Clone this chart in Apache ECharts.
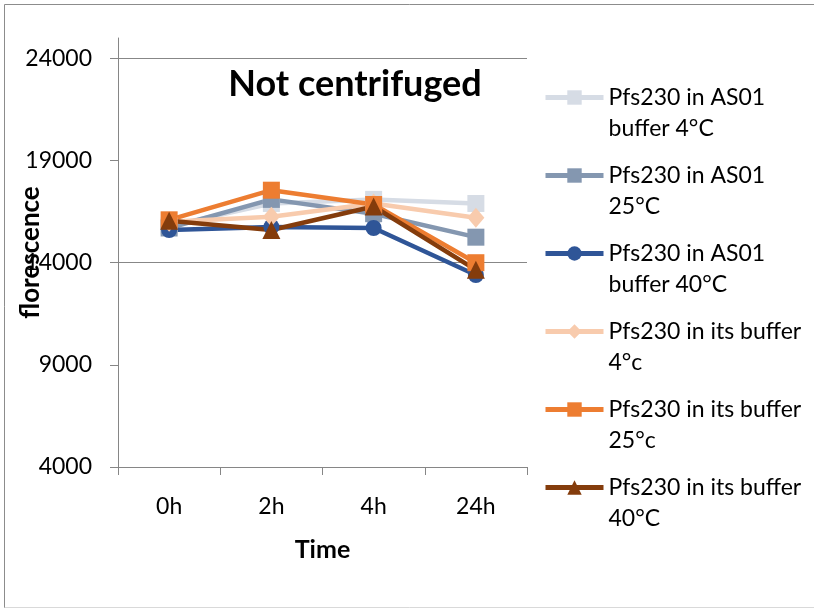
<!DOCTYPE html>
<html>
<head>
<meta charset="utf-8">
<script src="https://cdn.jsdelivr.net/npm/echarts@6/dist/echarts.min.js"></script>
<style>
html,body{margin:0;padding:0;background:#fff;}
#c{width:814px;height:610px;}
</style>
</head>
<body>
<div id="c"></div>
<script>
const categories = ['0h', '2h', '4h', '24h'];
const seriesNames = [
  'Pfs230 in AS01 buffer 4°C',
  'Pfs230 in AS01 25°C',
  'Pfs230 in AS01 buffer 40°C',
  'Pfs230 in its buffer 4°c',
  'Pfs230 in its buffer 25°c',
  'Pfs230 in its buffer 40°C'
];
const legendLine1 = ['Pfs230 in AS01', 'Pfs230 in AS01', 'Pfs230 in AS01', 'Pfs230 in its buffer', 'Pfs230 in its buffer', 'Pfs230 in its buffer'];
const legendLine2 = ['buffer 4°C', '25°C', 'buffer 40°C', '4°c', '25°c', '40°C'];
const as01Buffer4 = [15800, 16900, 17100, 16900];
const as01At25 = [15700, 17100, 16400, 15250];
const as01Buffer40 = [15600, 15750, 15700, 13400];
const itsBuffer4 = [16000, 16250, 16900, 16200];
const itsBuffer25 = [16100, 17550, 16850, 14000];
const itsBuffer40 = [16050, 15600, 16750, 13650];
const yTickValues = [4000, 9000, 14000, 19000, 24000];
const gridLineValues = [14000, 24000];

const seriesData = [as01Buffer4, as01At25, as01Buffer40, itsBuffer4, itsBuffer25, itsBuffer40];
const colors = ['#D6DCE5', '#8497B0', '#2F5597', '#F8CBAD', '#ED7D31', '#843C0C'];
const symbols = ['rect', 'rect', 'circle', 'diamond', 'rect', 'triangle'];
const symbolSizes = [17, 17, 16, [17, 20], 17, 18];
const FONT = 'Lato';

const chart = echarts.init(document.getElementById('c'), null, {renderer: 'canvas'});
const series = seriesData.map((d, i) => {
  const s = {
    name: seriesNames[i],
    type: 'line',
    data: d,
    symbol: symbols[i],
    symbolSize: symbolSizes[i],
    showAllSymbol: true,
    lineStyle: {color: colors[i], width: 4.5},
    itemStyle: {color: colors[i], borderWidth: 0},
    emphasis: {disabled: true},
    animation: false
  };
  if (i === 0) {
    s.markLine = {
      silent: true,
      symbol: 'none',
      z: 1,
      label: {show: false},
      lineStyle: {color: '#878787', width: 1, type: 'solid'},
      data: gridLineValues.map(v => ({yAxis: v}))
    };
  }
  return s;
});

chart.setOption({
  animation: false,
  backgroundColor: '#fff',
  textStyle: {fontFamily: FONT},
  title: {
    text: 'Not centrifuged',
    left: 350, top: 61, textAlign: 'center',
    textStyle: {fontFamily: FONT, fontWeight: 'bold', fontSize: 36, color: '#000'}
  },
  grid: {left: 118, top: 38, width: 409, height: 429, containLabel: false, outerBoundsMode: 'none'},
  legend: {
    orient: 'vertical',
    left: 543, top: 86,
    padding: 0,
    itemWidth: 58, itemHeight: 18, itemGap: 24, itemTextGap: 3,
    lineStyle: {width: 5},
    data: seriesNames,
    formatter: function (name) {
      const i = seriesNames.indexOf(name);
      return '{a|' + legendLine1[i] + '}\n{b|' + legendLine2[i] + '}';
    },
    textStyle: {
      fontFamily: FONT, fontSize: 23, color: '#000',
      rich: {
        a: {fontFamily: FONT, fontSize: 23, color: '#000', lineHeight: 62},
        b: {fontFamily: FONT, fontSize: 23, color: '#000', lineHeight: 0}
      }
    },
    selectedMode: false
  },
  xAxis: {
    type: 'category',
    data: categories,
    boundaryGap: true,
    name: 'Time',
    nameLocation: 'middle',
    nameGap: 70,
    nameMoveOverlap: false,
    nameTextStyle: {fontFamily: FONT, fontWeight: 'bold', fontSize: 25, color: '#000'},
    axisLine: {lineStyle: {color: '#868686', width: 1}},
    axisTick: {show: true, length: 8, inside: false, lineStyle: {color: '#868686'}},
    axisLabel: {fontFamily: FONT, fontSize: 23, color: '#000', margin: 28},
    splitLine: {show: false}
  },
  yAxis: {
    type: 'value',
    min: 4000, max: 25000,
    name: 'florescence',
    nameLocation: 'middle',
    nameRotate: 90,
    nameGap: 74,
    nameMoveOverlap: false,
    nameTextStyle: {fontFamily: FONT, fontWeight: 'bold', fontSize: 26, color: '#000'},
    axisLine: {show: true, lineStyle: {color: '#868686', width: 1}},
    axisTick: {show: true, length: 8, customValues: yTickValues, lineStyle: {color: '#868686'}},
    axisLabel: {fontFamily: FONT, fontSize: 23, color: '#000', margin: 26, customValues: yTickValues,
      formatter: v => String(v)},
    splitLine: {show: false}
  },
  graphic: [
    {type: 'line', shape: {x1: 4.5, y1: 4.5, x2: 814, y2: 4.5}, style: {stroke: '#8c8c8c', lineWidth: 1}, silent: true},
    {type: 'line', shape: {x1: 4.5, y1: 4.5, x2: 4.5, y2: 608}, style: {stroke: '#8c8c8c', lineWidth: 1}, silent: true},
    {type: 'line', shape: {x1: 4.5, y1: 607.5, x2: 814, y2: 607.5}, style: {stroke: '#d9d9d9', lineWidth: 1}, silent: true}
  ],
  series: series
});
</script>
</body>
</html>
